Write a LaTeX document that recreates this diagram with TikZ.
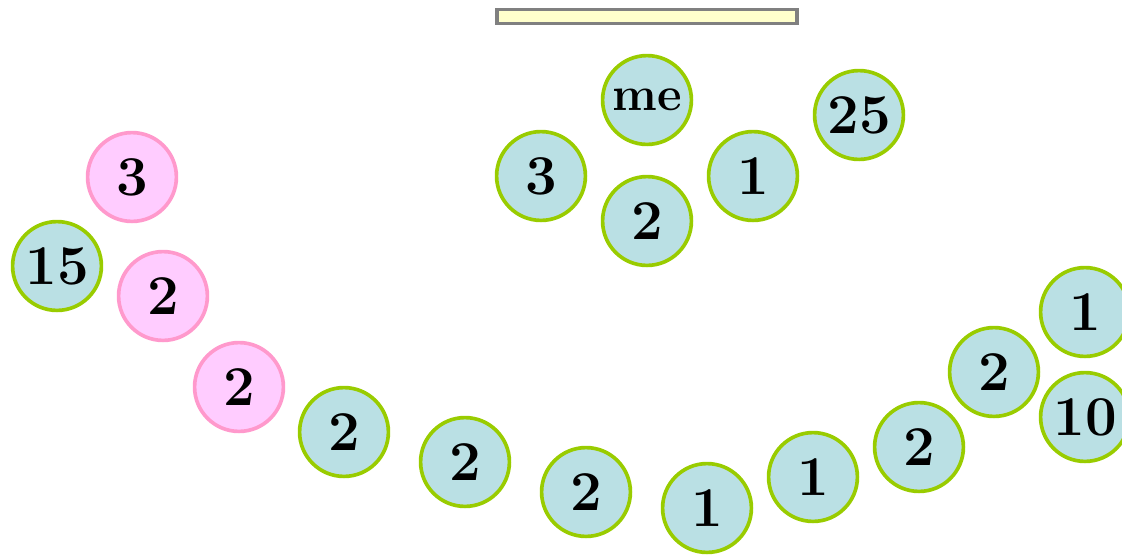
\documentclass[tikz,border=0pt]{standalone}
\usepackage{fontspec}
\usepackage{tikz}

\definecolor{seat}{HTML}{BAE0E4}
\definecolor{seatline}{HTML}{99CC00}
\definecolor{pinkseat}{HTML}{FFCCFF}
\definecolor{pinkline}{HTML}{FF99CC}
\definecolor{board}{HTML}{FFFFCC}

\begin{document}
\begin{tikzpicture}[x=0.025cm, y=-0.025cm,
        main/.style = {draw=seatline, fill=seat, circle, line width=2.6pt, minimum size=2.22cm, inner sep=0pt, font=\fontsize{40}{40}\selectfont\bfseries},
        pink/.style = {main, draw=pinkline, fill=pinkseat}]
        \useasboundingbox (0,0) rectangle (1122,555);
        \node[draw=gray, fill=board, line width=2.5pt, minimum width=7.5cm, minimum height=0.36cm, inner sep=0pt] (board) at (647,16.5) {};
        % front group
        \node[main, font=\fontsize{34}{34}\selectfont\bfseries] (me) at (647,100) {me};
        \node[main] (a) at (541,176) {3};
        \node[main] (b) at (647,221) {2};
        \node[main] (c) at (753,176) {1};
        \node[main] (d) at (859,115) {25};
        % left side
        \node[pink] (p1) at (132,177) {3};
        \node[main] (e) at (57,266) {15};
        \node[pink] (p2) at (163,296) {2};
        \node[pink] (p3) at (239,387) {2};
        % arc
        \node[main] (1) at (344,432) {2};
        \node[main] (2) at (465,462) {2};
        \node[main] (3) at (586,492) {2};
        \node[main] (4) at (707,508) {1};
        \node[main] (5) at (813,477) {1};
        \node[main] (6) at (919,447) {2};
        \node[main] (7) at (994,372) {2};
        \node[main] (8) at (1085,312) {1};
        \node[main] (9) at (1085,417) {10};
    \end{tikzpicture}
\end{document}
